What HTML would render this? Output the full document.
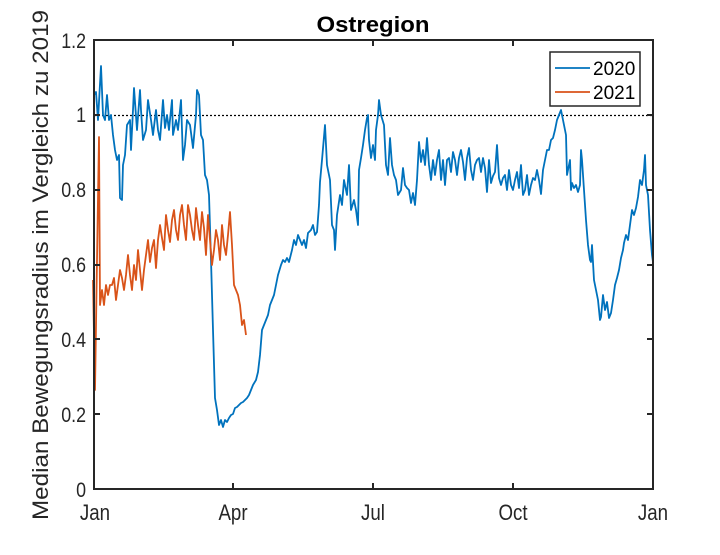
<!DOCTYPE html><html><head><style>body{margin:0;background:#fff}svg text{font-family:"Liberation Sans",sans-serif}</style></head><body>
<svg width="720" height="550" xmlns="http://www.w3.org/2000/svg">
<rect width="720" height="550" fill="#fff"/>
<text x="373" y="32" font-size="22" font-weight="bold" text-anchor="middle" textLength="113" lengthAdjust="spacingAndGlyphs">Ostregion</text>
<text transform="translate(48,265) rotate(-90)" font-size="22" text-anchor="middle" fill="#262626" textLength="510" lengthAdjust="spacingAndGlyphs">Median Bewegungsradius im Vergleich zu 2019</text>
<g font-size="21" fill="#262626" text-anchor="end">
<text transform="translate(86,497) scale(0.85,1)">0</text><text transform="translate(86,422) scale(0.85,1)">0.2</text><text transform="translate(86,347) scale(0.85,1)">0.4</text><text transform="translate(86,272) scale(0.85,1)">0.6</text><text transform="translate(86,197) scale(0.85,1)">0.8</text><text transform="translate(86,122) scale(0.85,1)">1</text><text transform="translate(86,48) scale(0.85,1)">1.2</text></g>
<g font-size="22" fill="#262626" text-anchor="middle">
<text transform="translate(95,520) scale(0.85,1)">Jan</text><text transform="translate(233,520) scale(0.85,1)">Apr</text><text transform="translate(373,520) scale(0.85,1)">Jul</text><text transform="translate(513,520) scale(0.85,1)">Oct</text><text transform="translate(653,520) scale(0.85,1)">Jan</text></g>
<line x1="94" y1="115.5" x2="653" y2="115.5" stroke="#000" stroke-width="1.3" stroke-dasharray="2,2"/>
<polyline fill="none" stroke="#0072bd" stroke-width="1.8" stroke-linejoin="round" points="94,95 96,92 98,120 101,66 103,115 105,120 107,95 109,120 111,115 113,135 115,150 117,160 119,155 120,198 122,200 123,165 125,155 127,125 130,120 131,150 133,110 134,88 137,130 140,90 141,110 143,140 146,130 148,100 151,120 153,135 156,110 158,130 160,140 163,100 165,128 167,115 169,130 172,100 173,135 176,120 178,130 181,100 183,160 185,145 187,120 190,125 193,148 196,115 197,90 199,95 201,135 203,140 205,175 207,180 209,195 211,260 213,330 215,398 217,410 219,425 221,420 223,427 225,420 227,422 229,418 231,415 233,414 235,408 237,407 239,405 241,403 243,402 245,400 247,398 249,395 251,390 253,385 256,380 258,372 260,355 262,330 264,325 266,320 268,315 270,305 272,300 274,295 276,285 278,275 281,265 283,260 285,262 287,258 289,262 292,250 294,240 296,245 298,235 300,240 302,245 304,240 306,248 308,233 311,230 313,225 315,235 317,232 319,205 320,182 322,160 325,125 327,165 330,180 332,225 334,230 335,250 337,215 340,195 342,205 344,180 347,195 349,165 351,210 354,200 356,210 358,225 359,170 361,158 363,145 365,130 367,118 368,115 369,140 371,158 373,145 375,160 376,130 378,115 379,100 381,115 384,125 386,165 388,175 390,138 392,165 394,175 396,180 398,195 401,190 403,168 405,185 407,188 409,190 411,203 413,193 415,205 417,180 419,142 421,162 423,150 425,165 427,138 429,165 431,180 433,160 435,175 437,160 439,150 441,180 443,160 445,185 447,160 449,158 451,172 453,152 455,160 457,175 459,158 461,150 463,162 465,180 467,158 469,148 471,170 473,180 475,165 477,160 479,158 481,172 483,158 485,168 487,192 489,160 491,183 493,176 495,172 497,145 499,178 501,185 503,178 505,175 507,190 509,170 511,185 513,190 515,180 517,172 519,188 521,165 523,195 525,190 527,175 529,195 531,185 533,178 535,180 537,170 539,180 541,194 543,170 545,160 547,150 549,150 551,140 553,138 555,130 557,120 559,115 561,110 563,120 565,130 566,135 567,175 569,165 570,160 571,190 572,183 574,188 576,185 578,192 580,185 581,150 582,160 584,190 586,220 588,245 590,260 591,262 592,245 594,280 596,290 598,300 600,320 601,317 603,295 605,310 607,302 609,318 611,313 613,300 615,285 617,278 619,270 621,258 623,250 624,243 626,235 628,240 630,225 632,210 634,215 636,208 638,197 640,180 642,185 644,170 645,155 646,185 648,195 650,230 652,255 653,262"/>
<polyline fill="none" stroke="#d95319" stroke-width="1.8" stroke-linejoin="round" points="93,280 95,390 97,260 99,137 100,305 102,290 104,305 106,285 108,295 110,285 112,285 114,278 116,300 118,285 120,270 122,278 124,290 126,275 128,255 130,275 132,290 134,265 136,280 138,250 140,270 142,290 144,270 146,255 148,240 150,262 152,248 154,240 156,268 158,240 160,225 162,238 164,250 166,215 168,230 170,242 172,220 174,210 176,230 178,240 180,215 182,205 184,225 186,240 188,205 190,215 192,230 194,240 196,208 198,225 200,240 202,212 204,228 206,255 208,215 210,240 212,265 214,250 216,230 218,240 220,260 222,225 224,245 226,255 228,235 230,212 232,245 234,285 236,290 238,295 240,305 242,325 244,320 246,335"/>
<rect x="94" y="40" width="559" height="449" fill="none" stroke="#262626" stroke-width="2"/>
<g stroke="#262626" stroke-width="2">
<line x1="94" y1="115" x2="100" y2="115"/><line x1="94" y1="190" x2="100" y2="190"/><line x1="94" y1="265" x2="100" y2="265"/><line x1="94" y1="339" x2="100" y2="339"/><line x1="94" y1="414" x2="100" y2="414"/>
<line x1="653" y1="115" x2="647" y2="115"/><line x1="653" y1="190" x2="647" y2="190"/><line x1="653" y1="265" x2="647" y2="265"/><line x1="653" y1="339" x2="647" y2="339"/><line x1="653" y1="414" x2="647" y2="414"/>
<line x1="233" y1="489" x2="233" y2="483"/><line x1="373" y1="489" x2="373" y2="483"/><line x1="513" y1="489" x2="513" y2="483"/>
<line x1="233" y1="40" x2="233" y2="46"/><line x1="373" y1="40" x2="373" y2="46"/><line x1="513" y1="40" x2="513" y2="46"/></g>
<rect x="550" y="52" width="90" height="54" fill="#fff" stroke="#262626" stroke-width="1.5"/>
<line x1="555" y1="68" x2="590" y2="68" stroke="#0072bd" stroke-width="1.8"/>
<line x1="555" y1="92" x2="590" y2="92" stroke="#d95319" stroke-width="1.8"/>
<text x="593" y="75" font-size="19">2020</text><text x="593" y="99" font-size="19">2021</text>
</svg></body></html>
